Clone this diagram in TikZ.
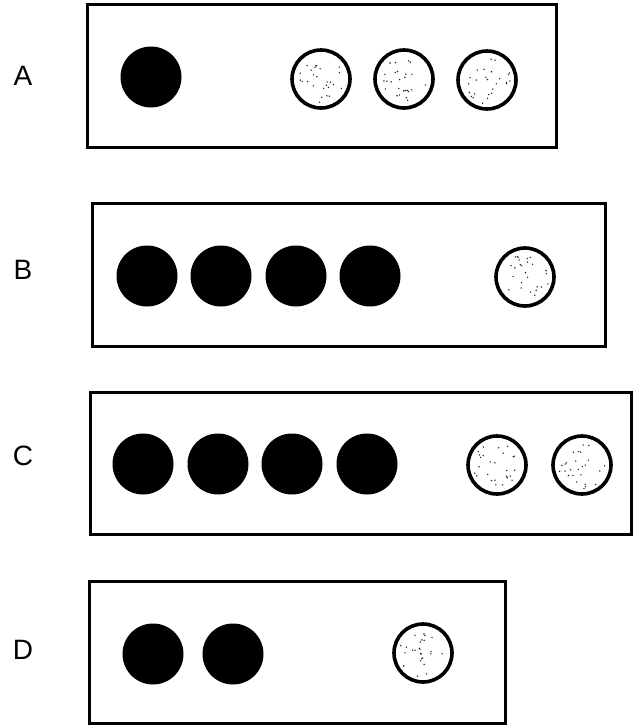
\documentclass[tikz,border=0pt]{standalone}
\usepackage{fontspec}
\setmainfont{Liberation Sans}
\usetikzlibrary{calc}
\tikzset{
  panel/.style={draw=black, line width=3pt},
  darkdot/.style={circle, fill=black, minimum size=61pt, inner sep=0pt},
  lightdot/.style={circle, draw=black, fill=white, line width=3.6pt, minimum size=58pt, inner sep=0pt},
  rowlabel/.style={font=\fontsize{28}{28}\selectfont, inner sep=0pt}
}
\begin{document}
\begin{tikzpicture}[x=1pt,y=-1pt]
\useasboundingbox[fill=white] (0,0) rectangle (639,726);
% labels
\node[rowlabel] (la) at (23,76) {A};
\node[rowlabel] (lb) at (23,270) {B};
\node[rowlabel] (lc) at (23,456) {C};
\node[rowlabel] (ld) at (23,650) {D};
% panels
\draw[panel] (87.5,4.5) rectangle (556,147);
\draw[panel] (92,203) rectangle (605,346);
\draw[panel] (90,392) rectangle (631,534);
\draw[panel] (89,581) rectangle (505,723);
% row A
\node[darkdot] (a1) at (151,77) {};
\node[lightdot] (a2) at (321,79) {};
\node[lightdot] (a3) at (404,79) {};
\node[lightdot] (a4) at (487,80) {};
% row B
\node[darkdot] (b1) at (147,276) {};
\node[darkdot] (b2) at (221,276) {};
\node[darkdot] (b3) at (296,276) {};
\node[darkdot] (b4) at (370,276) {};
\node[lightdot] (b5) at (525,277) {};
% row C
\node[darkdot] (c1) at (143,464) {};
\node[darkdot] (c2) at (218,464) {};
\node[darkdot] (c3) at (292,464) {};
\node[darkdot] (c4) at (367,464) {};
\node[lightdot] (c5) at (497,465) {};
\node[lightdot] (c6) at (582,465) {};
% row D
\node[darkdot] (d1) at (153,654) {};
\node[darkdot] (d2) at (233,654) {};
\node[lightdot] (d3) at (423,653) {};
% speckles in the light dots
\pgfmathsetseed{11}
\foreach \c in {a2,a3,a4,b5,c5,c6,d3}{
  \foreach \i in {1,...,26}{
    \pgfmathsetmacro\rr{24*sqrt(rnd)}
    \pgfmathsetmacro\aa{360*rnd}
    \fill[black!85] ($(\c)+(\aa:\rr)$) circle (0.8);
  }
}
\end{tikzpicture}
\end{document}
